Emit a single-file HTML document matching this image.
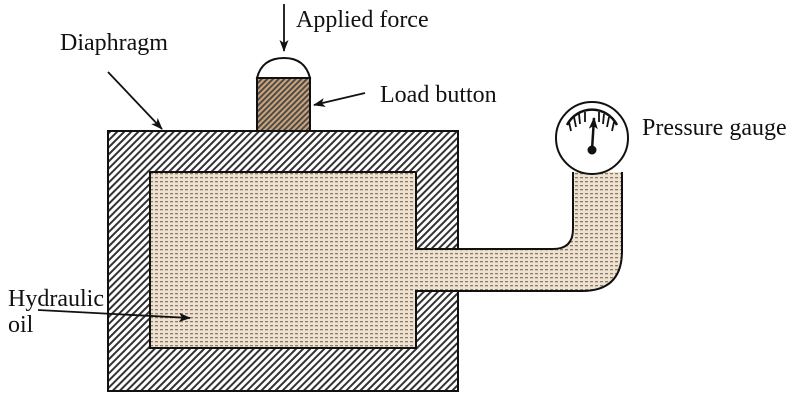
<!DOCTYPE html>
<html><head><style>body{margin:0;background:#fff}svg{display:block}</style></head><body>
<svg width="800" height="401" viewBox="0 0 800 401" xmlns="http://www.w3.org/2000/svg" font-family="Liberation Serif, serif" font-size="24">
<defs>
<pattern id="h" width="5" height="5" patternUnits="userSpaceOnUse" patternTransform="rotate(45)">
<rect width="5" height="5" fill="#fff"/><rect width="2" height="5" fill="#333"/></pattern>
<pattern id="hb" width="4" height="4" patternUnits="userSpaceOnUse" patternTransform="rotate(45)">
<rect width="4" height="4" fill="#c9a27a"/><rect width="1.8" height="4" fill="#444"/></pattern>
<pattern id="d" width="5" height="4" patternUnits="userSpaceOnUse">
<rect width="5" height="4" fill="#efe2d0"/><rect x="0" y="1" width="3" height="1.3" fill="#8a7a6a"/></pattern>
<marker id="a" markerWidth="12" markerHeight="9" refX="11" refY="4.5" orient="auto" markerUnits="userSpaceOnUse"><path d="M0,0 L12,4.5 L0,9 L3,4.5z" fill="#111"/></marker>
</defs>
<path d="M108,131 H458 V249 H416 V291 H458 V391 H108Z" fill="url(#h)" stroke="#111" stroke-width="2"/>
<path d="M150,172 H416 V249 H553 Q573,249 573,229 V172 H622 V251 Q622,291 582,291 H416 V348 H150Z" fill="url(#d)"/>
<path d="M416,172 H150 V348 H416 V291 H582 Q622,291 622,251 V172 M573,172 V229 Q573,249 553,249 H416 V172" fill="none" stroke="#111" stroke-width="2"/>
<circle cx="592" cy="138" r="36" fill="#fff" stroke="#111" stroke-width="2"/>
<path d="M567,125 A28,28 0 0 1 617,125" fill="none" stroke="#111" stroke-width="2.5"/>
<g stroke="#111" stroke-width="1.8">
<line x1="569" y1="122" x2="571" y2="131"/><line x1="574" y1="117" x2="576" y2="127"/><line x1="579" y1="114" x2="580" y2="124"/><line x1="585" y1="112" x2="585" y2="122"/><line x1="599" y1="112" x2="599" y2="122"/><line x1="604" y1="114" x2="603" y2="124"/><line x1="609" y1="117" x2="607" y2="127"/><line x1="614" y1="122" x2="612" y2="131"/></g>
<line x1="592" y1="150" x2="594" y2="118" stroke="#111" stroke-width="2.5" marker-end="url(#a)"/>
<circle cx="592" cy="150" r="4.5" fill="#111"/>
<rect x="257" y="78" width="53" height="53" fill="url(#hb)" stroke="#111" stroke-width="2"/>
<path d="M257,78 Q262,58 284,58 Q305,58 310,78Z" fill="#fff" stroke="#111" stroke-width="2"/>
<g stroke="#111" stroke-width="1.8" fill="none">
<line x1="284" y1="4" x2="284" y2="51" marker-end="url(#a)"/>
<line x1="365" y1="93" x2="314" y2="105" marker-end="url(#a)"/>
<line x1="108" y1="72" x2="162" y2="129" marker-end="url(#a)"/>
<line x1="38" y1="310" x2="190" y2="318" marker-end="url(#a)"/>
</g>
<g fill="#111">
<text x="296" y="27">Applied force</text>
<text x="380" y="102">Load button</text>
<text x="60" y="50">Diaphragm</text>
<text x="642" y="135">Pressure gauge</text>
<text x="8" y="306">Hydraulic</text>
<text x="8" y="332">oil</text>
</g>
</svg>
</body></html>
